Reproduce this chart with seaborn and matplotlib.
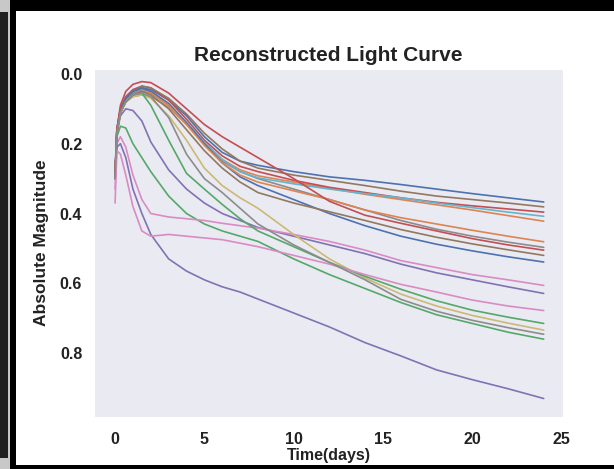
import matplotlib
matplotlib.use("Agg")
import matplotlib.pyplot as plt
from matplotlib.patches import Rectangle
import seaborn as sns
import pandas as pd

sns.set_style("dark")
plt.rcParams['font.family'] = ['Liberation Sans', 'DejaVu Sans']

# time grid (days) the curves were read at
days = [0, 0.1, 0.3, 0.6, 1, 1.5, 2, 3, 4, 5, 6, 7, 8, 10, 12, 14, 16, 18, 20, 22, 24]

# magnitudes, one list per curve
blue_top   = [0.29, 0.16, 0.10, 0.07, 0.05, 0.04, 0.045, 0.075, 0.12, 0.18, 0.225, 0.25, 0.262, 0.28, 0.295, 0.305, 0.317, 0.33, 0.343, 0.355, 0.367]
orange_top = [0.30, 0.17, 0.11, 0.08, 0.065, 0.06, 0.065, 0.095, 0.145, 0.20, 0.245, 0.275, 0.292, 0.31, 0.328, 0.345, 0.36, 0.375, 0.39, 0.406, 0.422]
green_fast = [0.29, 0.18, 0.15, 0.155, 0.20, 0.24, 0.28, 0.35, 0.40, 0.43, 0.45, 0.465, 0.48, 0.53, 0.575, 0.615, 0.655, 0.69, 0.715, 0.74, 0.76]
red_top    = [0.29, 0.16, 0.10, 0.065, 0.045, 0.035, 0.04, 0.075, 0.13, 0.19, 0.235, 0.265, 0.28, 0.305, 0.325, 0.34, 0.355, 0.368, 0.378, 0.387, 0.396]
purple_mid = [0.29, 0.17, 0.12, 0.10, 0.105, 0.135, 0.195, 0.275, 0.33, 0.37, 0.40, 0.42, 0.44, 0.465, 0.49, 0.515, 0.545, 0.57, 0.59, 0.61, 0.629]
brown_top  = [0.30, 0.17, 0.10, 0.07, 0.05, 0.035, 0.04, 0.07, 0.115, 0.17, 0.215, 0.25, 0.27, 0.29, 0.305, 0.32, 0.336, 0.35, 0.36, 0.37, 0.381]
pink_up    = [0.33, 0.20, 0.18, 0.21, 0.29, 0.36, 0.40, 0.41, 0.415, 0.42, 0.428, 0.435, 0.442, 0.46, 0.48, 0.505, 0.535, 0.555, 0.575, 0.59, 0.606]
gray_mid   = [0.30, 0.17, 0.11, 0.075, 0.055, 0.045, 0.05, 0.085, 0.14, 0.20, 0.25, 0.28, 0.30, 0.33, 0.36, 0.39, 0.42, 0.445, 0.465, 0.482, 0.497]
olive      = [0.30, 0.17, 0.11, 0.08, 0.065, 0.06, 0.07, 0.12, 0.19, 0.27, 0.32, 0.355, 0.385, 0.46, 0.53, 0.585, 0.631, 0.665, 0.692, 0.714, 0.734]
cyan       = [0.30, 0.17, 0.11, 0.075, 0.06, 0.05, 0.055, 0.09, 0.14, 0.195, 0.245, 0.28, 0.298, 0.315, 0.33, 0.343, 0.355, 0.37, 0.383, 0.396, 0.408]
blue_low   = [0.29, 0.16, 0.10, 0.07, 0.05, 0.04, 0.05, 0.085, 0.14, 0.20, 0.255, 0.295, 0.32, 0.36, 0.40, 0.435, 0.465, 0.488, 0.507, 0.524, 0.539]
orange_low = [0.30, 0.17, 0.11, 0.08, 0.06, 0.05, 0.055, 0.09, 0.145, 0.205, 0.255, 0.29, 0.31, 0.335, 0.36, 0.39, 0.412, 0.43, 0.448, 0.465, 0.481]
green_low  = [0.30, 0.17, 0.11, 0.08, 0.06, 0.055, 0.09, 0.19, 0.285, 0.33, 0.374, 0.415, 0.45, 0.495, 0.54, 0.58, 0.617, 0.65, 0.677, 0.697, 0.715]
red_peak   = [0.28, 0.16, 0.09, 0.05, 0.03, 0.022, 0.025, 0.055, 0.10, 0.145, 0.18, 0.21, 0.24, 0.30, 0.365, 0.405, 0.428, 0.45, 0.472, 0.49, 0.505]
purple_low = [0.30, 0.21, 0.20, 0.24, 0.33, 0.40, 0.46, 0.53, 0.565, 0.59, 0.61, 0.625, 0.645, 0.685, 0.725, 0.77, 0.808, 0.848, 0.876, 0.902, 0.93]
brown_low  = [0.30, 0.17, 0.11, 0.08, 0.06, 0.05, 0.06, 0.10, 0.16, 0.22, 0.27, 0.31, 0.34, 0.37, 0.395, 0.42, 0.446, 0.468, 0.487, 0.504, 0.52]
pink_low   = [0.37, 0.22, 0.23, 0.29, 0.38, 0.45, 0.465, 0.46, 0.465, 0.47, 0.475, 0.485, 0.495, 0.52, 0.545, 0.575, 0.603, 0.625, 0.648, 0.665, 0.678]
gray_low   = [0.30, 0.17, 0.11, 0.08, 0.06, 0.055, 0.065, 0.125, 0.23, 0.30, 0.34, 0.385, 0.43, 0.49, 0.54, 0.59, 0.646, 0.68, 0.706, 0.727, 0.746]

curves = [blue_top, orange_top, green_fast, red_top, purple_mid, brown_top, pink_up,
          gray_mid, olive, cyan, blue_low, orange_low, green_low, red_peak, purple_low,
          brown_low, pink_low, gray_low]
# palette index per curve (seaborn "deep")
color_idx = [0, 1, 2, 3, 4, 5, 6, 7, 8, 9, 0, 1, 2, 3, 4, 5, 6, 7]

rows = []
for k, mags in enumerate(curves):
    for t, m in zip(days, mags):
        rows.append({'curve': k, 'Time(days)': t, 'Absolute Magnitude': m})
df = pd.DataFrame(rows)

deep = sns.color_palette("deep")
pal = {k: deep[c] for k, c in enumerate(color_idx)}

fig = plt.figure(figsize=(6.14, 4.69), dpi=100)
ax = fig.add_axes([94 / 614, 1 - 417 / 469, (563 - 94) / 614, (417 - 69) / 469])
sns.lineplot(data=df, x='Time(days)', y='Absolute Magnitude', hue='curve',
             palette=pal, linewidth=1.2, legend=False, ax=ax)

ax.set_xlim(-1.18, 25.08)
ax.set_ylim(0.983, -0.014)
ax.set_xticks([0, 5, 10, 15, 20, 25])
ax.set_yticks([0.0, 0.2, 0.4, 0.6, 0.8])
ax.set_yticklabels(['0.0', '0.2', '0.4', '0.6', '0.8'])
ax.tick_params(axis='both', labelsize=11.5, colors='#222222')
ax.tick_params(axis='x', pad=7)
ax.tick_params(axis='y', pad=5)
for lab in ax.get_xticklabels() + ax.get_yticklabels():
    lab.set_fontweight('bold')
ax.set_xlabel('Time(days)', fontsize=11.5, fontweight='bold', labelpad=1, color='#222222')
ax.set_ylabel('Absolute Magnitude', fontsize=12.5, fontweight='bold', labelpad=8, color='#222222')
ax.set_title('Reconstructed Light Curve', fontsize=15, fontweight='bold', color='#222222', pad=6)

# screenshot frame around the chart
W, H = 614, 469
def box(x0, y0, x1, y1, c):
    fig.add_artist(Rectangle((x0 / W, 1 - y1 / H), (x1 - x0) / W, (y1 - y0) / H,
                             transform=fig.transFigure, facecolor=c, edgecolor='none', zorder=10))
box(0, 0, 10, 469, '#c8c8c8')
box(0, 12, 8, 458, '#202020')
box(10, 0, 614, 11, 'black')
box(10, 0, 16, 469, 'black')
box(10, 465, 614, 469, 'black')

fig.savefig('out.png', dpi=100)
